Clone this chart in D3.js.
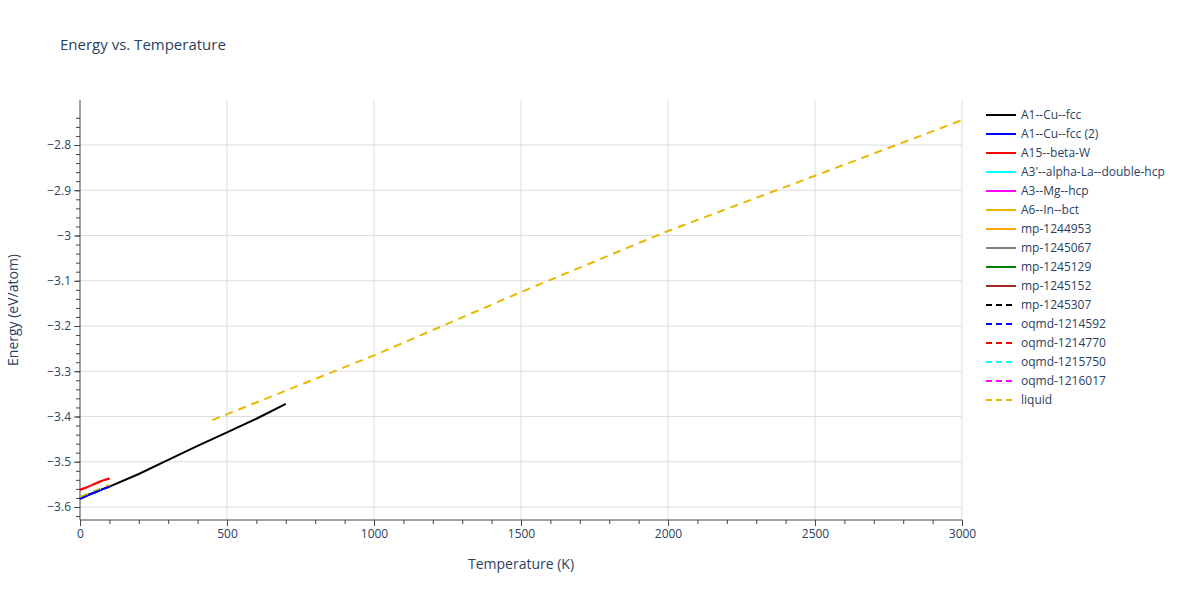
<!DOCTYPE html><html><head><meta charset="utf-8"><script src="https://cdn.jsdelivr.net/npm/d3@7"></script>
<style>body{margin:0;background:#fff;font-family:"Open Sans",sans-serif}</style></head><body><svg id="c" width="1200" height="600"></svg>
<script>
const seriesNames=["A1--Cu--fcc","A1--Cu--fcc (2)","A15--beta-W","A3'--alpha-La--double-hcp","A3--Mg--hcp","A6--In--bct","mp-1244953","mp-1245067","mp-1245129","mp-1245152","mp-1245307","oqmd-1214592","oqmd-1214770","oqmd-1215750","oqmd-1216017","liquid"];
const seriesColors=["#000","#0000ff","#ff0000","#00ffff","#ff00ff","#e6b800","#ffa500","#808080","#008000","#a52a2a","#000","#0000ff","#ff0000","#00ffff","#ff00ff","#e6b800"];
const seriesDash=[0,0,0,0,0,0,0,0,0,0,1,1,1,1,1,1];
const tA1=[0,100,200,300,400,500,600,700], eA1=[-3.580,-3.555,-3.527,-3.496,-3.465,-3.435,-3.405,-3.372];
const tSmall=[0,25,50,75,100];
const eRed=[-3.562,-3.556,-3.549,-3.542,-3.537];
const eBlue=[-3.582,-3.575,-3.568,-3.561,-3.555];
const eCyan=[-3.578,-3.572,-3.565,-3.559,-3.553];
const eYellowLow=[-3.578,-3.571,-3.565,-3.558,-3.552];
const tLiq=[450,1000,1500,2000,2500,3000], eLiq=[-3.408,-3.265,-3.125,-2.99,-2.868,-2.745];
const xTicks=[0,500,1000,1500,2000,2500,3000];
const yTicks=[-3.6,-3.5,-3.4,-3.3,-3.2,-3.1,-3,-2.9,-2.8];
const lines=[
 {x:tA1,y:eA1,i:0},{x:tSmall,y:eBlue,i:1},{x:tSmall,y:eRed,i:2},{x:tSmall,y:eCyan,i:13},
 {x:tSmall,y:eYellowLow,i:15},{x:tSmall,y:eRed,i:12},{x:tSmall,y:eBlue,i:11},{x:tLiq,y:eLiq,i:15}];
const svg=d3.select("#c");
const L=80,R=962,T=100,B=520;
const x=d3.scaleLinear().domain([0,3000]).range([L,R]);
const y=d3.scaleLinear().domain([-3.6,-2.8]).range([507,145]);
const g=svg.append("g");
g.selectAll(".gx").data(xTicks.slice(1)).join("line").attr("x1",d=>x(d)).attr("x2",d=>x(d)).attr("y1",T).attr("y2",B).attr("stroke","#ddd");
g.selectAll(".gy").data(yTicks).join("line").attr("x1",L).attr("x2",R).attr("y1",d=>y(d)).attr("y2",d=>y(d)).attr("stroke","#ddd");
const ax=svg.append("g").attr("transform",`translate(0,${B})`).call(d3.axisBottom(x).tickValues(xTicks).tickSize(6).tickFormat(d3.format("d")));
svg.append("g").attr("transform",`translate(0,${B})`).call(d3.axisBottom(x).tickValues(d3.range(0,3001,100)).tickSize(4).tickFormat(""));
const ay=svg.append("g").attr("transform",`translate(${L},0)`).call(d3.axisLeft(y).tickValues(yTicks).tickSize(6).tickFormat(d=>String(d).replace("-","−")));
svg.append("g").attr("transform",`translate(${L},0)`).call(d3.axisLeft(y).tickValues(d3.range(-3.62,-2.72,0.02)).tickSize(4).tickFormat(""));
svg.selectAll(".domain").attr("d",null);
svg.append("line").attr("x1",L).attr("x2",R).attr("y1",B).attr("y2",B).attr("stroke","#444");
svg.append("line").attr("x1",L).attr("x2",L).attr("y1",T).attr("y2",B).attr("stroke","#444");
svg.selectAll(".tick text").attr("font-size",12).attr("fill","#2a3f5f").attr("font-family","Open Sans");
svg.selectAll(".tick line").attr("stroke","#444");
const ln=d3.line().x(d=>x(d[0])).y(d=>y(d[1]));
lines.forEach(s=>{svg.append("path").attr("d",ln(s.x.map((v,k)=>[v,s.y[k]]))).attr("fill","none").attr("stroke",seriesColors[s.i]).attr("stroke-width",2).attr("stroke-dasharray",seriesDash[s.i]?"8,6":null);});
svg.append("text").attr("x",60).attr("y",50).text("Energy vs. Temperature").attr("font-size",15).attr("fill","#2a3f5f");
svg.append("text").attr("x",521).attr("y",569).attr("text-anchor","middle").text("Temperature (K)").attr("font-size",14).attr("fill","#2a3f5f");
svg.append("text").attr("transform","translate(18,310) rotate(-90)").attr("text-anchor","middle").text("Energy (eV/atom)").attr("font-size",14).attr("fill","#2a3f5f");
const lg=svg.append("g");
seriesNames.forEach((n,i)=>{const yy=115+i*19;
 lg.append("line").attr("x1",986).attr("x2",1016).attr("y1",yy).attr("y2",yy).attr("stroke",seriesColors[i]).attr("stroke-width",2).attr("stroke-dasharray",seriesDash[i]?"6,4":null);
 lg.append("text").attr("x",1021).attr("y",yy+4).text(n).attr("font-size",12).attr("fill","#2a3f5f");});
</script></body></html>
